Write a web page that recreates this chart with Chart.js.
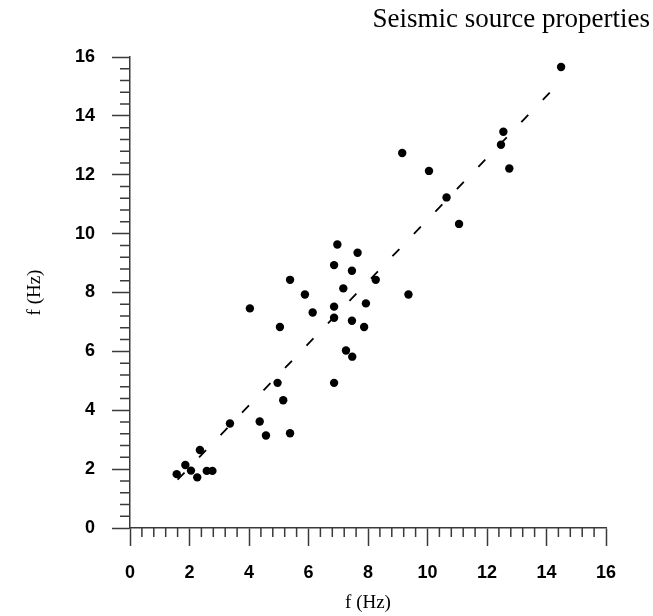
<!DOCTYPE html>
<html>
<head>
<meta charset="utf-8">
<script src="https://cdn.jsdelivr.net/npm/chart.js@4.4.1/dist/chart.umd.min.js"></script>
<style>
  body { margin: 0; background: #fff; }
  canvas { display: block; }
</style>
</head>
<body>
<canvas id="myChart" width="653" height="616"></canvas>
<script>
/* -----------data------------- */
const xVals = [14.49, 12.55, 12.47, 9.15, 10.05, 12.75, 10.64, 11.06,
  6.97, 7.65, 6.86, 7.46, 5.38, 8.26, 7.17, 5.88, 9.36, 4.03, 6.86, 7.93,
  6.14, 6.86, 7.46, 5.04, 7.87, 7.26, 7.47, 4.96, 6.86, 5.15,
  3.36, 4.36, 4.57, 5.38, 2.35, 1.86, 1.57, 2.05, 2.26, 2.58, 2.77];
const yVals = [15.66, 13.46, 13.02, 12.74, 12.13, 12.21, 11.23, 10.33,
  9.63, 9.35, 8.93, 8.74, 8.43, 8.43, 8.14, 7.93, 7.93, 7.46, 7.52, 7.63,
  7.32, 7.14, 7.04, 6.83, 6.83, 6.03, 5.82, 4.93, 4.93, 4.34,
  3.55, 3.62, 3.14, 3.22, 2.65, 2.14, 1.83, 1.95, 1.72, 1.94, 1.94];
const fitX = [1.6, 14.45];
const fitY = [1.64, 15.15];
const tickLabels = ['0', '2', '4', '6', '8', '10', '12', '14', '16'];
const chartTitle = 'Seismic source properties';
const axisTitle = 'f (Hz)';

const axisColor = '#3a3a3a';
const isMajor = v => Math.abs(v / 2 - Math.round(v / 2)) < 1e-6;
const labelFor = v => isMajor(v) ? tickLabels[Math.round(v / 2)] : '';

/* -----------plugins------------- */
// short ticks between the labelled ones
const minorTicks = {
  id: 'minorTicks',
  afterDraw(chart) {
    const {ctx, scales: {x, y}} = chart;
    ctx.save();
    ctx.strokeStyle = axisColor;
    ctx.lineWidth = 1.5;
    ctx.beginPath();
    x.ticks.forEach(t => {
      if (isMajor(t.value)) return;
      const px = x.getPixelForValue(t.value);
      ctx.moveTo(px, x.top);
      ctx.lineTo(px, x.top + 9);
    });
    y.ticks.forEach(t => {
      if (isMajor(t.value)) return;
      const py = y.getPixelForValue(t.value);
      ctx.moveTo(y.right, py);
      ctx.lineTo(y.right - 10, py);
    });
    ctx.stroke();
    ctx.restore();
  }
};

const topTitle = {
  id: 'topTitle',
  afterDraw(chart) {
    const ctx = chart.ctx;
    ctx.save();
    ctx.fillStyle = '#000';
    ctx.font = '27px "Liberation Serif"';
    ctx.textAlign = 'right';
    ctx.textBaseline = 'alphabetic';
    ctx.fillText(chartTitle, 650, 27);
    ctx.restore();
  }
};

/* -----------chart------------- */
const points = xVals.map((v, i) => ({x: v, y: yVals[i]}));
const fitLine = fitX.map((v, i) => ({x: v, y: fitY[i]}));

function axis(pos) {
  const horizontal = pos === 'bottom';
  return {
    type: 'linear',
    position: pos,
    min: 0,
    max: 16,
    afterFit(scale) {
      if (horizontal) scale.height = 88;
      else scale.width = 130;
    },
    ticks: {
      stepSize: 0.4,
      autoSkip: false,
      maxRotation: 0,
      padding: horizontal ? 16 : 17,
      color: '#000',
      font: {family: 'Liberation Sans', size: 18, weight: 'bold'},
      callback: v => labelFor(v)
    },
    grid: {
      drawOnChartArea: false,
      drawTicks: true,
      tickLength: 18,
      tickWidth: 1.5,
      tickColor: c => (c.tick && isMajor(c.tick.value)) ? axisColor : 'rgba(0,0,0,0)'
    },
    border: {display: true, color: axisColor, width: 1.5},
    title: {
      display: true,
      text: axisTitle,
      color: '#000',
      font: {family: 'Liberation Serif', size: 19},
      padding: horizontal ? {top: 0, bottom: 2} : {top: 24, bottom: 0}
    }
  };
}

var myChart = new Chart(document.getElementById('myChart').getContext('2d'), {
  type: 'scatter',
  data: {
    datasets: [{
      label: 'events',
      data: points,
      backgroundColor: '#000',
      borderWidth: 0,
      pointRadius: 4.2,
      pointHoverRadius: 4.2
    }, {
      label: 'fit',
      data: fitLine,
      showLine: true,
      borderColor: '#000',
      borderWidth: 1.8,
      borderDash: [10, 21],
      pointRadius: 0,
      fill: false
    }]
  },
  options: {
    responsive: false,
    animation: false,
    devicePixelRatio: 1,
    layout: {padding: {left: 0, top: 57, right: 47, bottom: 0}},
    plugins: {
      legend: {display: false},
      tooltip: {enabled: false},
      title: {display: false}
    },
    scales: {
      x: axis('bottom'),
      y: axis('left')
    }
  },
  plugins: [minorTicks, topTitle]
});
</script>
</body>
</html>
